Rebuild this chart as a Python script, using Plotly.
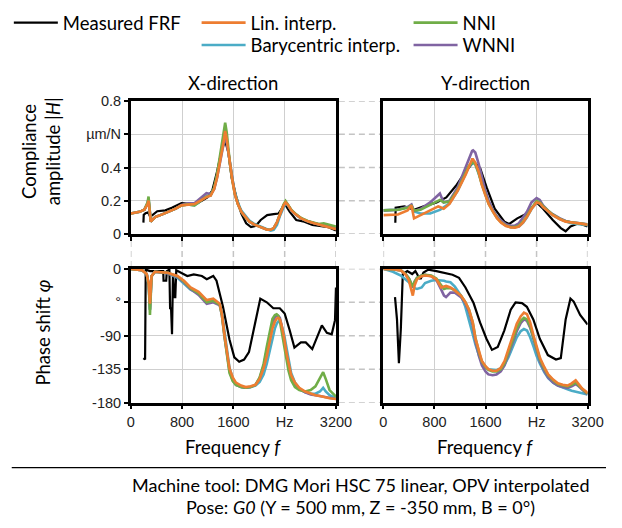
import plotly.graph_objects as go

# ---------------- data ----------------
# Amplitude, X-direction (µm/N)
f_ampX = [0, 136, 212, 262, 277, 290, 312, 350, 388, 490, 590, 700, 791, 892, 993, 1060, 1119, 1180,
          1245, 1300, 1346, 1390, 1421, 1450, 1472, 1497, 1520, 1547, 1585, 1623, 1670, 1724, 1790,
          1850, 1930, 2001, 2070, 2127, 2180, 2228, 2280, 2328, 2380, 2414, 2450, 2505, 2580, 2656,
          2760, 2858, 2930, 3009, 3100, 3200]
ampX_lin = [0.123, 0.133, 0.146, 0.18, 0.20, 0.16, 0.074, 0.09, 0.103, 0.118, 0.133, 0.152, 0.172, 0.178,
            0.18, 0.195, 0.21, 0.222, 0.23, 0.27, 0.34, 0.43, 0.49, 0.56, 0.62, 0.57, 0.50, 0.415, 0.32,
            0.24, 0.18, 0.133, 0.10, 0.074, 0.056, 0.045, 0.034, 0.025, 0.025, 0.035, 0.07, 0.123, 0.17,
            0.19, 0.175, 0.142, 0.115, 0.094, 0.076, 0.064, 0.056, 0.049, 0.04, 0.029]
ampX_nni = [0.123, 0.133, 0.146, 0.19, 0.225, 0.17, 0.074, 0.09, 0.103, 0.118, 0.133, 0.152, 0.172, 0.178,
            0.172, 0.19, 0.21, 0.225, 0.232, 0.28, 0.36, 0.46, 0.54, 0.62, 0.67, 0.61, 0.52, 0.42, 0.32,
            0.24, 0.18, 0.133, 0.10, 0.074, 0.056, 0.045, 0.034, 0.025, 0.025, 0.035, 0.07, 0.123, 0.175,
            0.198, 0.18, 0.145, 0.118, 0.096, 0.078, 0.066, 0.06, 0.064, 0.056, 0.045]
ampX_bary = [0.123, 0.133, 0.146, 0.185, 0.21, 0.165, 0.074, 0.09, 0.103, 0.118, 0.133, 0.152, 0.172, 0.178,
             0.172, 0.19, 0.212, 0.225, 0.232, 0.275, 0.35, 0.45, 0.52, 0.58, 0.60, 0.56, 0.50, 0.42, 0.33,
             0.25, 0.19, 0.14, 0.105, 0.08, 0.06, 0.048, 0.036, 0.027, 0.02, 0.025, 0.055, 0.11, 0.165,
             0.188, 0.172, 0.14, 0.114, 0.094, 0.076, 0.064, 0.056, 0.05, 0.042, 0.03]
ampX_wnni = [0.123, 0.133, 0.146, 0.185, 0.21, 0.165, 0.074, 0.09, 0.103, 0.118, 0.133, 0.152, 0.175, 0.185,
             0.185, 0.205, 0.228, 0.245, 0.24, 0.27, 0.34, 0.43, 0.50, 0.56, 0.59, 0.55, 0.49, 0.41, 0.32,
             0.24, 0.18, 0.133, 0.10, 0.074, 0.056, 0.045, 0.034, 0.025, 0.025, 0.035, 0.07, 0.123, 0.17,
             0.19, 0.175, 0.142, 0.115, 0.094, 0.076, 0.064, 0.058, 0.055, 0.045, 0.032]
f_ampX_meas = [197, 202, 230, 270, 300, 338, 413, 539, 640, 791, 917, 1043, 1194, 1270, 1346, 1421, 1472,
               1522, 1572, 1648, 1724, 1799, 1875, 1951, 2026, 2127, 2228, 2303, 2404, 2480, 2580, 2706,
               2832, 2959, 3084, 3200]
ampX_meas = [0.068, 0.115, 0.125, 0.13, 0.105, 0.113, 0.137, 0.142, 0.158, 0.185, 0.181, 0.185, 0.22, 0.26,
             0.376, 0.51, 0.56, 0.49, 0.34, 0.22, 0.123, 0.064, 0.041, 0.049, 0.084, 0.113, 0.119, 0.123,
             0.18, 0.133, 0.084, 0.074, 0.055, 0.049, 0.041, 0.021]

# Amplitude, Y-direction (µm/N)
f_ampY = [0, 227, 379, 440, 480, 581, 733, 859, 885, 945, 1036, 1163, 1289, 1340, 1390, 1405, 1440, 1491,
          1540, 1592, 1650, 1719, 1780, 1845, 1920, 1997, 2060, 2123, 2190, 2249, 2320, 2401, 2450, 2502,
          2580, 2654, 2760, 2856, 2930, 3008, 3100, 3200]
ampY_lin = [0.113, 0.117, 0.142, 0.172, 0.094, 0.113, 0.142, 0.166, 0.162, 0.152, 0.181, 0.26, 0.357, 0.41,
            0.45, 0.45, 0.43, 0.376, 0.30, 0.24, 0.18, 0.133, 0.095, 0.068, 0.048, 0.039, 0.038, 0.045,
            0.07, 0.103, 0.15, 0.19, 0.185, 0.162, 0.135, 0.113, 0.09, 0.074, 0.07, 0.068, 0.062, 0.055]
ampY_nni = [0.142, 0.146, 0.158, 0.17, 0.14, 0.145, 0.175, 0.20, 0.205, 0.19, 0.195, 0.265, 0.37, 0.41,
            0.43, 0.432, 0.42, 0.37, 0.30, 0.245, 0.18, 0.133, 0.097, 0.07, 0.05, 0.041, 0.042, 0.05, 0.075,
            0.108, 0.155, 0.198, 0.19, 0.167, 0.138, 0.116, 0.092, 0.076, 0.07, 0.068, 0.062, 0.056]
ampY_bary = [0.142, 0.146, 0.16, 0.168, 0.135, 0.123, 0.123, 0.14, 0.145, 0.16, 0.185, 0.26, 0.365, 0.405,
             0.425, 0.428, 0.42, 0.37, 0.31, 0.25, 0.19, 0.14, 0.102, 0.074, 0.052, 0.042, 0.04, 0.045,
             0.068, 0.1, 0.15, 0.19, 0.185, 0.162, 0.135, 0.113, 0.09, 0.074, 0.066, 0.062, 0.058, 0.052]
ampY_wnni = [0.142, 0.146, 0.162, 0.177, 0.138, 0.15, 0.19, 0.23, 0.244, 0.19, 0.20, 0.28, 0.40, 0.46,
             0.50, 0.503, 0.49, 0.425, 0.34, 0.27, 0.20, 0.142, 0.105, 0.08, 0.058, 0.049, 0.05, 0.064, 0.10,
             0.133, 0.19, 0.216, 0.205, 0.172, 0.14, 0.119, 0.095, 0.078, 0.072, 0.068, 0.064, 0.058]
f_ampY_meas = [187, 192, 329, 480, 632, 834, 986, 1137, 1289, 1415, 1516, 1618, 1744, 1896, 1971, 2098,
               2249, 2401, 2502, 2654, 2780, 2856, 2932, 3058, 3200]
ampY_meas = [0.068, 0.158, 0.166, 0.146, 0.166, 0.19, 0.22, 0.29, 0.376, 0.435, 0.396, 0.28, 0.152, 0.074,
             0.06, 0.094, 0.123, 0.19, 0.152, 0.084, 0.035, 0.016, 0.045, 0.064, 0.045]

# Phase, X-direction (degrees)
f_phX = [0, 172, 248, 280, 299, 312, 324, 375, 577, 729, 830, 932, 1058, 1185, 1286, 1387, 1420, 1463,
         1500, 1539, 1590, 1640, 1720, 1792, 1870, 1944, 2010, 2071, 2120, 2172, 2210, 2248, 2275, 2299,
         2325, 2349, 2390, 2425, 2460, 2501, 2560, 2628, 2720, 2805, 2880, 2950, 3000, 3040, 3100, 3200]
phX_lin = [0, -1.7, -7, -20, -47, -25, -9.6, -3.9, -5.2, -9.6, -16, -25, -31, -42, -40, -47, -60, -90,
           -113, -134, -146, -153, -157, -159, -158, -156, -148, -134, -118, -95, -80, -71, -67, -66, -68,
           -75, -92, -112, -128, -143, -153, -160, -165, -168, -170, -171, -172, -173, -174, -175]
phX_nni = [0, -1.7, -7, -22, -62, -30, -10, -4, -5.2, -10, -17, -26, -33, -45, -43, -48, -62, -92, -118,
           -140, -151, -156, -159, -160, -159, -156, -146, -128, -105, -82, -67, -62, -61, -63, -70, -82,
           -100, -120, -137, -150, -159, -163, -165, -163, -158, -148, -139, -148, -163, -172]
phX_bary = [0, -1.7, -7, -21, -55, -28, -10, -4, -6, -12, -20, -28, -33, -43, -42, -48, -58, -85, -110,
            -133, -147, -155, -159, -160, -159, -157, -152, -142, -128, -108, -92, -80, -74, -71, -71, -75,
            -88, -106, -124, -140, -153, -161, -166, -168, -168, -165, -160, -165, -170, -174]
phX_wnni = [0, -1.7, -7, -21, -55, -28, -10, -4, -6, -11, -18, -27, -35, -47, -45, -49, -62, -92, -116,
            -137, -150, -156, -159, -160, -159, -156, -147, -131, -110, -88, -73, -65, -63, -63, -66, -75,
            -93, -113, -130, -145, -155, -162, -166, -169, -170, -171, -172, -173, -174, -175]
f_phX_meas = [197, 223, 233, 299, 476, 506, 511, 552, 562, 602, 613, 628, 643, 658, 678, 694, 709, 881,
              982, 1109, 1185, 1286, 1337, 1438, 1539, 1615, 1691, 1767, 1843, 1944, 2020, 2121, 2223,
              2324, 2400, 2476, 2552, 2653, 2729, 2830, 2916, 2980, 3058, 3134, 3185, 3200]
phX_meas = [-120, -122, -1, -3, -3, -3, -16, -16, -3, -1, -53, -53, -88, -7, -38, -38, -2, -9.6, -7.4,
            -9.6, -14, -9.6, -16, -51, -95, -119, -125, -122, -112, -69, -40, -45, -53, -53, -60, -82, -106,
            -99, -99, -108, -90, -76, -86, -88, -69, -25]

# Phase, Y-direction (degrees)
f_phY = [0, 150, 273, 350, 400, 440, 461, 490, 527, 600, 653, 750, 830, 906, 950, 982, 1050, 1120, 1215,
         1280, 1342, 1400, 1443, 1500, 1544, 1600, 1645, 1710, 1772, 1840, 1898, 1960, 2025, 2090, 2151,
         2202, 2250, 2300, 2354, 2400, 2455, 2520, 2582, 2660, 2734, 2810, 2886, 2950, 3013, 3060, 3114,
         3160, 3200]
phY_lin = [0, -0.5, -2, -8, -16, -28, -36, -22, -14, -10, -9, -10, -14, -25, -24, -23, -25, -29, -36, -44,
           -55, -72, -94, -113, -124, -131, -135, -137, -137, -133, -124, -108, -90, -74, -64, -59, -61,
           -72, -90, -105, -120, -132, -142, -149, -154, -156, -157, -154, -150, -155, -161, -164, -167]
phY_nni = [0, -0.5, -2, -7, -13, -20, -24, -17, -12, -9, -8, -9, -13, -22, -27, -26, -26, -29, -36, -44,
           -55, -72, -93, -113, -125, -132, -136, -138, -138, -135, -127, -112, -95, -80, -70, -66, -68,
           -77, -93, -108, -122, -134, -143, -150, -155, -157, -158, -156, -153, -157, -162, -165, -168]
phY_bary = [0, -4, -9, -14, -18, -22, -24, -26, -27, -25, -19, -16, -15, -15, -16, -17, -18, -24, -36, -50,
            -68, -88, -102, -117, -125, -132, -135, -136, -136, -134, -129, -119, -105, -92, -84, -81, -83,
            -92, -105, -117, -128, -139, -147, -153, -157, -160, -162, -164, -165, -166, -167, -168, -169]
phY_wnni = [0, -0.5, -2, -7, -13, -20, -25, -17, -12, -9, -8, -10, -15, -28, -36, -38, -32, -32, -38, -46,
            -58, -76, -98, -118, -130, -138, -142, -143, -142, -138, -130, -115, -99, -84, -73, -68, -70,
            -79, -95, -110, -125, -137, -146, -153, -157, -159, -160, -158, -155, -158, -163, -166, -169]
f_phY_meas = [182, 213, 243, 273, 304, 375, 451, 501, 567, 587, 628, 704, 830, 957, 1083, 1185, 1286,
              1413, 1514, 1615, 1701, 1792, 1894, 1995, 2071, 2172, 2248, 2349, 2451, 2577, 2704, 2780,
              2856, 2931, 2982, 3083, 3200]
phY_meas = [-38, -68, -127, -81, -7, -3, -7, -3, -13, -13, -5, -1, -3, -5, -8, -12, -25, -46, -72, -94,
            -109, -105, -83, -55, -45, -46, -51, -68, -94, -116, -122, -120, -68, -40, -44, -62, -75]

# tick labels
freq_ticks = [0, 800, 1600, 2400, 3200]
freq_ticktext = ["0", "800", "1600", "Hz", "3200"]
amp_ticks = [0, 0.2, 0.4, 0.6, 0.8]
amp_ticktext = ["0", "0.2", "0.4", "µm/N", "0.8"]
ph_ticks = [-180, -135, -90, -45, 0]
ph_ticktext = ["-180", "-135", "-90", "°", "0"]

series_names = ["Measured FRF", "Barycentric interp.", "WNNI", "NNI", "Lin. interp."]
series_colors = ["#000000", "#4BACC6", "#8064A2", "#70AD47", "#ED7D31"]
series_legend = ["legend", "legend3", "legend5", "legend4", "legend2"]

# ---------------- figure ----------------
W, H = 622, 528
TXT = "Lato"
NUM = "Liberation Sans"


def px(x):
    return x / W


def py(y):
    return 1 - y / H


fig = go.Figure()

panels = [
    ("x", "y", [(f_ampX_meas, ampX_meas), (f_ampX, ampX_bary), (f_ampX, ampX_wnni), (f_ampX, ampX_nni), (f_ampX, ampX_lin)]),
    ("x2", "y2", [(f_ampY_meas, ampY_meas), (f_ampY, ampY_bary), (f_ampY, ampY_wnni), (f_ampY, ampY_nni), (f_ampY, ampY_lin)]),
    ("x3", "y3", [(f_phX_meas, phX_meas), (f_phX, phX_bary), (f_phX, phX_wnni), (f_phX, phX_nni), (f_phX, phX_lin)]),
    ("x4", "y4", [(f_phY_meas, phY_meas), (f_phY, phY_bary), (f_phY, phY_wnni), (f_phY, phY_nni), (f_phY, phY_lin)]),
]

for pi, (xa, ya, data) in enumerate(panels):
    for si, (fx, vy) in enumerate(data):
        fig.add_trace(go.Scatter(
            x=fx, y=vy, mode="lines", name=series_names[si],
            line=dict(color=series_colors[si], width=2.2 if si == 0 else 2.6),
            xaxis=xa, yaxis=ya, showlegend=(pi == 0),
            legend=series_legend[si],
            hoverinfo="skip",
        ))

grid_col = "#cfcfcf"
xcommon = dict(range=[0, 3200], tickvals=freq_ticks, ticktext=freq_ticktext,
               showgrid=True, gridcolor=grid_col, gridwidth=1.3, zeroline=False,
               showline=True, linecolor="black", linewidth=2.6, mirror=True,
               ticks="outside", ticklen=4, tickwidth=2, tickcolor="black",
               tickfont=dict(family=NUM, size=14.5, color="#222"))
ycommon = dict(showgrid=True, gridcolor=grid_col, gridwidth=1.3, zeroline=False,
               showline=True, linecolor="black", linewidth=2.6, mirror=True,
               tickfont=dict(family=NUM, size=14.5, color="#222"))

xl = [px(131), px(343)]
xr = [px(392), px(603)]
yt = [py(233), py(96)]
yb = [py(407), py(269)]

legfont = dict(family=TXT, size=18.5, color="black")


def leg(xp, yp):
    return dict(x=px(xp), y=py(yp), xanchor="left", yanchor="top", orientation="v",
                font=legfont, bgcolor="rgba(0,0,0,0)", itemwidth=44)


fig.update_layout(
    width=W, height=H, margin=dict(l=0, r=0, t=0, b=0),
    paper_bgcolor="white", plot_bgcolor="white",
    xaxis=dict(domain=xl, anchor="y", showticklabels=False, **xcommon),
    xaxis2=dict(domain=xr, anchor="y2", showticklabels=False, **xcommon),
    xaxis3=dict(domain=xl, anchor="y3", showticklabels=True, **xcommon),
    xaxis4=dict(domain=xr, anchor="y4", showticklabels=True, **xcommon),
    yaxis=dict(domain=yt, anchor="x", range=[0, 0.8], tickvals=amp_ticks, ticktext=amp_ticktext,
               ticks="outside", ticklen=4, tickwidth=2, tickcolor="black", **ycommon),
    yaxis2=dict(domain=yt, anchor="x2", range=[0, 0.8], tickvals=amp_ticks, showticklabels=False,
                ticks="", **ycommon),
    yaxis3=dict(domain=yb, anchor="x3", range=[-180, 0], tickvals=ph_ticks, ticktext=ph_ticktext,
                ticks="outside", ticklen=4, tickwidth=2, tickcolor="black", **ycommon),
    yaxis4=dict(domain=yb, anchor="x4", range=[-180, 0], tickvals=ph_ticks, showticklabels=False,
                ticks="", **ycommon),
    legend=leg(5, -4),
    legend2=leg(199, -4),
    legend3=leg(199, 19),
    legend4=leg(418, -4),
    legend5=leg(418, 19),
)

# dashed connectors between panels
dash_style = dict(color="#c4c4c4", width=1.5, dash="6px,4px")
for v in amp_ticks:
    fig.add_shape(type="line", xref="paper", yref="y", x0=px(346), x1=px(390), y0=v, y1=v,
                  line=dash_style, layer="below")
for v in ph_ticks:
    fig.add_shape(type="line", xref="paper", yref="y3", x0=px(346), x1=px(390), y0=v, y1=v,
                  line=dash_style, layer="below")
for v in freq_ticks:
    fig.add_shape(type="line", xref="x", yref="paper", x0=v, x1=v, y0=py(267), y1=py(238),
                  line=dash_style, layer="below")
    fig.add_shape(type="line", xref="x2", yref="paper", x0=v, x1=v, y0=py(267), y1=py(238),
                  line=dash_style, layer="below")

# separator line above caption
fig.add_shape(type="line", xref="paper", yref="paper", x0=px(8), x1=1, y0=py(474), y1=py(474),
              line=dict(color="black", width=1.3))

tfont = dict(family=TXT, size=18.5, color="black")
cfont = dict(family=TXT, size=18, color="black")
annots = [
    dict(text="X-direction", x=px(237), y=py(77), font=tfont),
    dict(text="Y-direction", x=px(497), y=py(77), font=tfont),
    dict(text="Frequency <i>f</i>", x=px(237), y=py(453), font=tfont),
    dict(text="Frequency <i>f</i>", x=px(497), y=py(453), font=tfont),
    dict(text="Compliance<br>amplitude |<i>H</i>|", x=px(38), y=py(148), textangle=-90, font=tfont),
    dict(text="Phase shift <i>φ</i>", x=px(40), y=py(335), textangle=-90, font=tfont),
    dict(text="Machine tool: DMG Mori HSC 75 linear, OPV interpolated", x=px(368), y=py(492), font=cfont),
    dict(text="Pose: <i>G0</i> (Y = 500 mm, Z = -350 mm, B = 0°)", x=px(368), y=py(515), font=cfont),
]
for a in annots:
    fig.add_annotation(xref="paper", yref="paper", showarrow=False, xanchor="center", yanchor="middle", **a)

fig.write_html(
    "out.html", config={"displayModeBar": False},
    post_script=("document.documentElement.style.margin='0';document.body.style.margin='0';"
                 "document.documentElement.style.overflow='hidden';document.body.style.overflow='hidden';"),
)
